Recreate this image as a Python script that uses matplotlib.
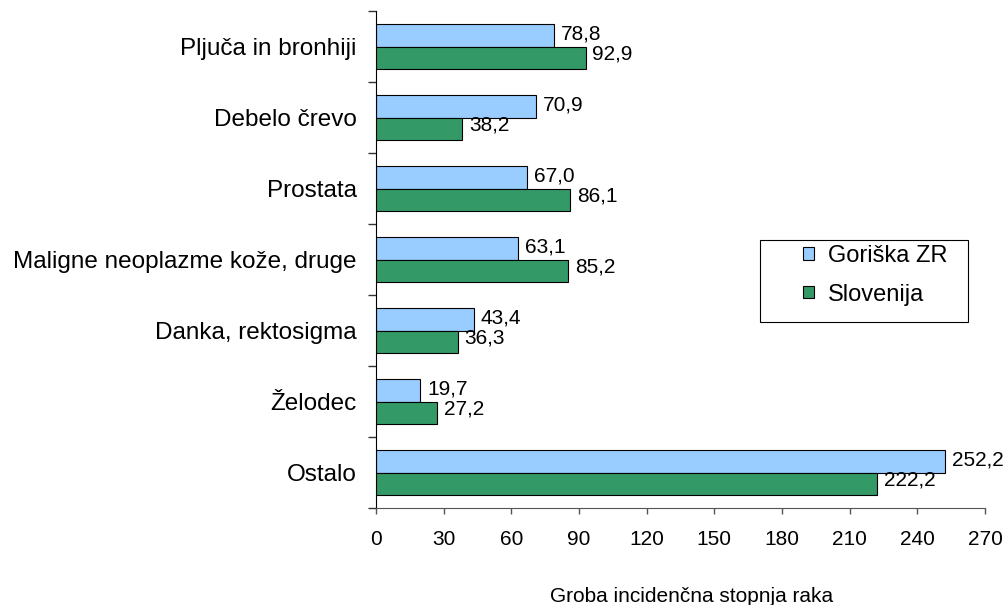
import matplotlib
matplotlib.use("Agg")
import matplotlib.pyplot as plt
from matplotlib.patches import Rectangle
import numpy as np

categories = ["Pljuča in bronhiji", "Debelo črevo", "Prostata",
              "Maligne neoplazme kože, druge", "Danka, rektosigma",
              "Želodec", "Ostalo"]
goriska = [78.8, 70.9, 67.0, 63.1, 43.4, 19.7, 252.2]
slovenija = [92.9, 38.2, 86.1, 85.2, 36.3, 27.2, 222.2]
series_names = ["Goriška ZR", "Slovenija"]
xticks = [0, 30, 60, 90, 120, 150, 180, 210, 240, 270]

plt.rcParams['font.family'] = ['Liberation Sans', 'DejaVu Sans']

W, H = 1008, 605
fig = plt.figure(figsize=(W/100, H/100), dpi=100)
ax = fig.add_axes([376/W, (H-508)/H, (985-376)/W, (508-11)/H])

n = len(categories)
y = np.arange(n)
h = 0.31
blue = "#99CCFF"
green = "#339966"
b1 = ax.barh(y - h/2, goriska, height=h, color=blue, edgecolor="black", linewidth=0.8, label=series_names[0])
b2 = ax.barh(y + h/2, slovenija, height=h, color=green, edgecolor="black", linewidth=0.8, label=series_names[1])

def fmt(v):
    return f"{v:.1f}".replace(".", ",")

for rect, v in zip(b1, goriska):
    ax.text(v + 3.0, rect.get_y() + rect.get_height()/2 - 0.02, fmt(v), va="center", ha="left", fontsize=15)
for rect, v in zip(b2, slovenija):
    ax.text(v + 3.0, rect.get_y() + rect.get_height()/2 - 0.05, fmt(v), va="center", ha="left", fontsize=15)

ax.set_ylim(n - 0.5, -0.5)
ax.set_xlim(0, 270)
ax.set_xticks(xticks)
ax.set_xticklabels([str(t) for t in xticks], fontsize=15)
ax.set_yticks(y)
ax.set_yticklabels(categories, fontsize=17.5)
ax.set_yticks(np.arange(n + 1) - 0.5, minor=True)
ax.tick_params(axis="y", which="major", length=0, pad=14)
ax.tick_params(axis="y", which="minor", length=6, width=1, color="#333333", direction="out")
ax.tick_params(axis="x", length=4, width=1, color="#555555", direction="out", pad=12)

for s in ["top", "right"]:
    ax.spines[s].set_visible(False)
ax.spines["left"].set_color("black")
ax.spines["bottom"].set_color("#555555")

ax.set_xlabel("Groba incidenčna stopnja raka", fontsize=15, labelpad=27)
ax.xaxis.label.set_x((692 - 376) / (985 - 376))

# legend frame
fig.patches.append(Rectangle((760/W, (H-322)/H), (968-760)/W, (322-240)/H,
                             transform=fig.transFigure, fill=False,
                             edgecolor="black", linewidth=0.8))
leg = fig.legend(handles=[b1, b2], labels=series_names, loc="upper left",
                 bbox_to_anchor=(803/W, (H-245)/H), frameon=False, fontsize=17,
                 handlelength=0.45, handleheight=0.45, borderpad=0, labelspacing=0.7,
                 handletextpad=0.6, borderaxespad=0)

fig.savefig("out.png", dpi=100)
